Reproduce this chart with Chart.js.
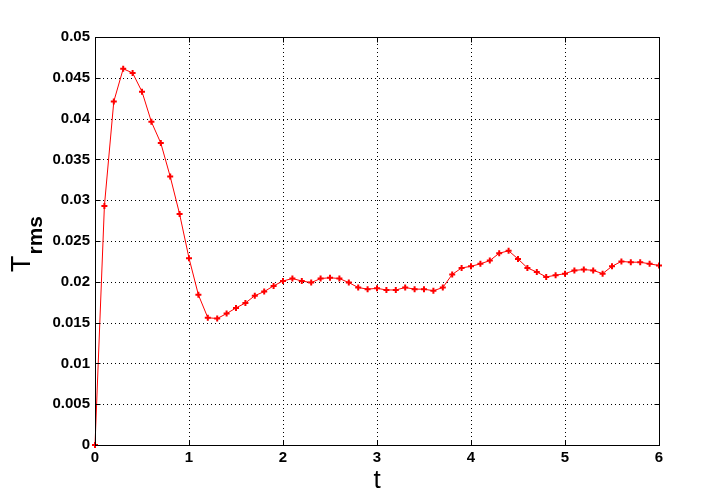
<!DOCTYPE html>
<html>
<head>
<meta charset="UTF-8">
<title>Trms vs t</title>
<script src="https://cdn.jsdelivr.net/npm/chart.js"></script>
<style>
  body { margin: 0; background: #fff; }
  #box { width: 727px; height: 501px; }
</style>
</head>
<body>
<div id="box"><canvas id="c"></canvas></div>
<script>
// time samples
const tValues = [0, 0.1, 0.2, 0.3, 0.4, 0.5, 0.6, 0.7, 0.8, 0.9,
                 1.0, 1.1, 1.2, 1.3, 1.4, 1.5, 1.6, 1.7, 1.8, 1.9,
                 2.0, 2.1, 2.2, 2.3, 2.4, 2.5, 2.6, 2.7, 2.8, 2.9,
                 3.0, 3.1, 3.2, 3.3, 3.4, 3.5, 3.6, 3.7, 3.8, 3.9,
                 4.0, 4.1, 4.2, 4.3, 4.4, 4.5, 4.6, 4.7, 4.8, 4.9,
                 5.0, 5.1, 5.2, 5.3, 5.4, 5.5, 5.6, 5.7, 5.8, 5.9, 6.0];
// Trms
const trms = [0, 0.0293, 0.0421, 0.0461, 0.0456, 0.0433, 0.0396, 0.0370, 0.0329, 0.0283,
              0.0229, 0.0184, 0.0156, 0.0155, 0.0161, 0.0168, 0.0174, 0.0183, 0.0188, 0.0195,
              0.0201, 0.0204, 0.0201, 0.0199, 0.0204, 0.0205, 0.0204, 0.0199, 0.0193, 0.0191,
              0.0192, 0.0190, 0.0190, 0.0193, 0.0191, 0.0191, 0.0189, 0.0193, 0.0209, 0.0217,
              0.0219, 0.0222, 0.0226, 0.0235, 0.0238, 0.0228, 0.0217, 0.0212, 0.0206, 0.0208,
              0.0210, 0.0214, 0.0215, 0.0214, 0.0210, 0.0219, 0.0225, 0.0224, 0.0224, 0.0222, 0.0220];
const xTickLabels = ['0', '1', '2', '3', '4', '5', '6'];
const yTickLabels = ['0', '0.005', '0.01', '0.015', '0.02', '0.025', '0.03', '0.035', '0.04', '0.045', '0.05'];

const tickFont = { family: 'Liberation Sans', size: 15, weight: 'bold' };

// dotted grid, box and inward tick marks like matlab
const frame = {
  id: 'frame',
  beforeDatasetsDraw(chart) {
    const { ctx, chartArea: a, scales: { x, y } } = chart;
    ctx.save();
    ctx.strokeStyle = '#000';
    ctx.lineWidth = 1;
    ctx.setLineDash([1, 3]);
    x.ticks.forEach(t => {
      const px = Math.round(x.getPixelForValue(t.value)) + 0.5;
      ctx.beginPath(); ctx.moveTo(px, a.bottom); ctx.lineTo(px, a.top); ctx.stroke();
    });
    y.ticks.forEach(t => {
      const py = Math.round(y.getPixelForValue(t.value)) + 0.5;
      ctx.beginPath(); ctx.moveTo(a.left, py); ctx.lineTo(a.right, py); ctx.stroke();
    });
    ctx.restore();
  },
  afterDraw(chart) {
    const { ctx, chartArea: a, scales: { x, y } } = chart;
    const L = Math.round(a.left) + 0.5, R = Math.round(a.right) + 0.5;
    const T = Math.round(a.top) + 0.5, B = Math.round(a.bottom) + 0.5;
    ctx.save();
    ctx.strokeStyle = '#000';
    ctx.lineWidth = 1;
    ctx.strokeRect(L, T, R - L, B - T);
    const len = 5;
    ctx.beginPath();
    x.ticks.forEach(t => {
      const px = Math.round(x.getPixelForValue(t.value)) + 0.5;
      ctx.moveTo(px, B); ctx.lineTo(px, B - len);
      ctx.moveTo(px, T); ctx.lineTo(px, T + len);
    });
    y.ticks.forEach(t => {
      const py = Math.round(y.getPixelForValue(t.value)) + 0.5;
      ctx.moveTo(L, py); ctx.lineTo(L + len, py);
      ctx.moveTo(R, py); ctx.lineTo(R - len, py);
    });
    ctx.stroke();

    // axis titles
    ctx.fillStyle = '#000';
    ctx.textBaseline = 'alphabetic';
    ctx.textAlign = 'center';
    ctx.font = '26px "Liberation Sans"';
    ctx.fillText('t', (a.left + a.right) / 2, 488);

    ctx.translate(30, 272);
    ctx.rotate(-Math.PI / 2);
    ctx.textAlign = 'left';
    ctx.font = '27px "Liberation Sans"';
    ctx.fillText('T', 0, 0);
    const w = ctx.measureText('T').width;
    ctx.font = 'bold 21px "Liberation Sans"';
    ctx.fillText('rms', w + 1, 12);
    ctx.restore();
  }
};

new Chart(document.getElementById('c'), {
  type: 'line',
  data: {
    datasets: [{
      data: tValues.map((t, i) => ({ x: t, y: trms[i] })),
      borderColor: '#ff0000',
      backgroundColor: '#ff0000',
      borderWidth: 1,
      pointStyle: 'cross',
      pointRadius: 3,
      pointBorderWidth: 2,
      tension: 0,
      fill: false,
      clip: 3
    }]
  },
  options: {
    responsive: true,
    maintainAspectRatio: false,
    animation: false,
    events: [],
    layout: { padding: { top: 37, right: 68, left: 0, bottom: 0 } },
    plugins: { legend: { display: false }, tooltip: { enabled: false } },
    scales: {
      x: {
        type: 'linear', min: 0, max: 6,
        grid: { display: false, drawTicks: false },
        border: { display: false },
        ticks: {
          stepSize: 1, padding: 4, color: '#000', font: tickFont, maxRotation: 0,
          callback: (v, i) => xTickLabels[i]
        },
        afterFit: s => { s.height = 56; }
      },
      y: {
        min: 0, max: 0.05,
        grid: { display: false, drawTicks: false },
        border: { display: false },
        ticks: {
          stepSize: 0.005, padding: 5, color: '#000', font: tickFont,
          callback: (v, i) => yTickLabels[i]
        },
        afterFit: s => { s.width = 95; }
      }
    }
  },
  plugins: [frame]
});
</script>
</body>
</html>
